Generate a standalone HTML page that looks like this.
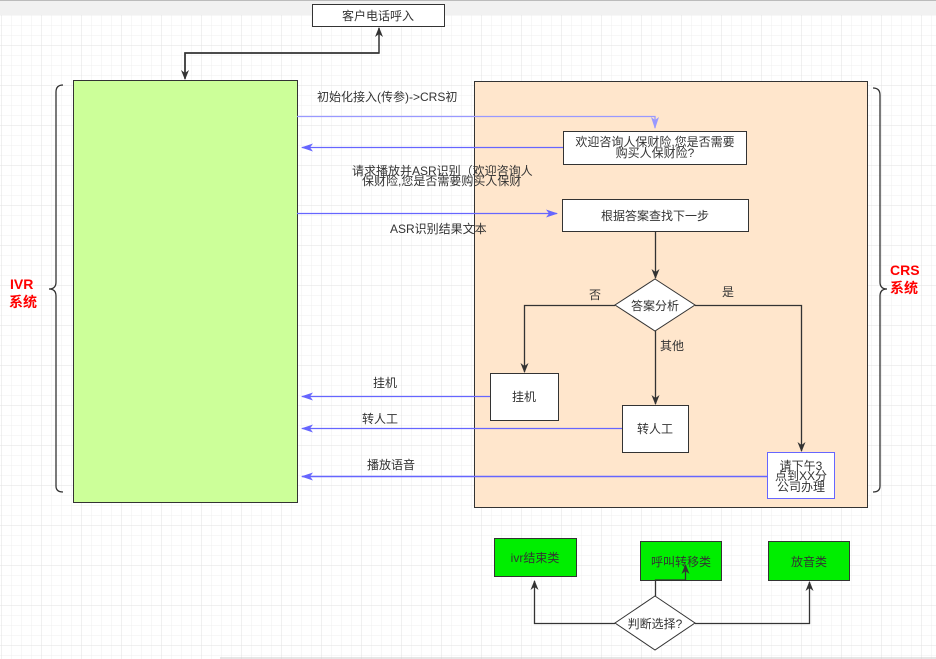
<!DOCTYPE html>
<html><head><meta charset="utf-8"><style>
html,body{margin:0;padding:0;background:#fff;}
svg{display:block;}
text{font-family:"Liberation Sans","Noto Sans CJK SC",sans-serif;font-size:12px;fill:#333;}
</style></head><body>
<svg width="936" height="659" viewBox="0 0 936 659" xmlns="http://www.w3.org/2000/svg">
<defs>
<pattern id="g" width="10" height="10" patternUnits="userSpaceOnUse" x="2" y="6"><path d="M10 0V10M0 10H10" fill="none" stroke="#efefef" stroke-width="1"/></pattern>
<pattern id="G" width="40" height="40" patternUnits="userSpaceOnUse" x="2" y="6"><path d="M40 0V40M0 40H40" fill="none" stroke="#e2e2e2" stroke-width="1"/></pattern>
<marker id="ak" markerWidth="10" markerHeight="10" refX="9" refY="5" orient="auto" markerUnits="userSpaceOnUse"><path d="M0 1L10 5L0 9L3 5Z" fill="#333"/></marker>
<marker id="ab" markerWidth="12" markerHeight="10" refX="11" refY="5" orient="auto" markerUnits="userSpaceOnUse"><path d="M0 1L12 5L0 9L3 5Z" fill="#6666ff"/></marker>
<marker id="ab2" markerWidth="12" markerHeight="10" refX="11" refY="5" orient="auto" markerUnits="userSpaceOnUse"><path d="M0 1L12 5L0 9L3 5Z" fill="#9999ff"/></marker>
</defs>
<rect width="936" height="659" fill="url(#g)"/>
<rect width="936" height="659" fill="url(#G)"/>
<rect x="0" y="0" width="936" height="15" fill="#f1f1f1"/>
<line x1="0" y1="0.5" x2="936" y2="0.5" stroke="#bbb"/>
<line x1="220" y1="658" x2="936" y2="658" stroke="#ccc"/>

<!-- top box -->
<rect x="312.5" y="4.5" width="132" height="22" fill="#fff" stroke="#333"/>
<text x="378" y="20" text-anchor="middle">客户电话呼入</text>
<path d="M185 78V53H379V28" fill="none" stroke="#333" stroke-width="1.5" marker-end="url(#ak)"/>
<path d="M379 53H185V79" fill="none" stroke="#333" stroke-width="1.5" marker-end="url(#ak)"/>

<!-- main boxes -->
<rect x="73.5" y="80.5" width="224" height="422" fill="#ccff99" stroke="#333"/>
<rect x="474.5" y="81.5" width="393" height="426" fill="#ffe6cc" stroke="#333"/>

<!-- braces -->
<path d="M63 85Q56 85 56 92V282Q56 289 49 289Q56 289 56 296V486Q56 492 63 492" fill="none" stroke="#333" stroke-width="1.3"/>
<path d="M873 88Q880 88 880 95V282Q880 289 887 289Q880 289 880 296V486Q880 492 873 492" fill="none" stroke="#333" stroke-width="1.3"/>
<text x="10" y="289" style="font-size:14px;font-weight:bold;fill:#ff0000">IVR</text>
<text x="9" y="307" style="font-size:14px;font-weight:bold;fill:#ff0000">系统</text>
<text x="890" y="275" style="font-size:14px;font-weight:bold;fill:#ff0000">CRS</text>
<text x="890" y="293" style="font-size:14px;font-weight:bold;fill:#ff0000">系统</text>

<!-- top flows -->
<text x="317" y="101">初始化接入(传参)-&gt;CRS初</text>
<path d="M297 116.5H655V128" fill="none" stroke="#9999ff" stroke-width="1.3" marker-end="url(#ab2)"/>
<rect x="563.5" y="131.5" width="183" height="33" fill="#fff" stroke="#333"/>
<text x="655" y="146" text-anchor="middle">欢迎咨询人保财险,您是否需要</text>
<text x="655" y="157" text-anchor="middle">购买人保财险?</text>
<path d="M563 147.5H302" fill="none" stroke="#6666ff" stroke-width="1.3" marker-end="url(#ab)"/>
<text x="352" y="175">请求播放并ASR识别（欢迎咨询人</text>
<text x="362" y="185">保财险,您是否需要购买人保财</text>
<path d="M297 213.5H557" fill="none" stroke="#6666ff" stroke-width="1.3" marker-end="url(#ab)"/>
<rect x="562.5" y="199.5" width="186" height="32" fill="#fff" stroke="#333"/>
<text x="655" y="220" text-anchor="middle">根据答案查找下一步</text>
<text x="390" y="233">ASR识别结果文本</text>

<!-- decision -->
<path d="M655.5 232V278" stroke="#333" stroke-width="1.3" marker-end="url(#ak)"/>
<path d="M655 279L695 305L655 331L615 305Z" fill="#fff" stroke="#333"/>
<text x="655" y="310" text-anchor="middle">答案分析</text>
<text x="589" y="299">否</text>
<text x="722" y="296">是</text>
<path d="M615 305.5H524.5V372" fill="none" stroke="#333" stroke-width="1.3" marker-end="url(#ak)"/>
<path d="M655.5 331V404" fill="none" stroke="#333" stroke-width="1.3" marker-end="url(#ak)"/>
<text x="660" y="350">其他</text>
<path d="M695 305.5H801.5V451" fill="none" stroke="#333" stroke-width="1.3" marker-end="url(#ak)"/>

<rect x="490.5" y="373.5" width="68" height="47" fill="#fff" stroke="#333"/>
<text x="524" y="401" text-anchor="middle">挂机</text>
<rect x="622.5" y="405.5" width="66" height="47" fill="#fff" stroke="#333"/>
<text x="655" y="433" text-anchor="middle">转人工</text>
<rect x="767.5" y="452.5" width="67" height="46" fill="#fff" stroke="#6666ff"/>
<text x="801" y="470" text-anchor="middle">请下午3</text>
<text x="801" y="480" text-anchor="middle">点到XX分</text>
<text x="801" y="491" text-anchor="middle">公司办理</text>

<!-- return flows -->
<path d="M490 396.5H302" fill="none" stroke="#6666ff" stroke-width="1.3" marker-end="url(#ab)"/>
<text x="373" y="387">挂机</text>
<path d="M622 428.5H302" fill="none" stroke="#6666ff" stroke-width="1.3" marker-end="url(#ab)"/>
<text x="362" y="423">转人工</text>
<path d="M767 476.5H302" fill="none" stroke="#6666ff" stroke-width="1.5" marker-end="url(#ab)"/>
<text x="367" y="469">播放语音</text>

<!-- bottom -->
<rect x="494.5" y="538.5" width="82" height="38" fill="#00ee00" stroke="#333"/>
<text x="535" y="562" text-anchor="middle">ivr结束类</text>
<rect x="640.5" y="541.5" width="81" height="39" fill="#00ee00" stroke="#333"/>
<text x="681" y="566" text-anchor="middle">呼叫转移类</text>
<rect x="768.5" y="541.5" width="81" height="39" fill="#00ee00" stroke="#333"/>
<text x="809" y="566" text-anchor="middle">放音类</text>
<path d="M655 596L695 623L655 650L615 623Z" fill="#fff" stroke="#333"/>
<text x="655" y="628" text-anchor="middle">判断选择?</text>
<path d="M615 623.5H534.5V581" fill="none" stroke="#333" stroke-width="1.3" marker-end="url(#ak)"/>
<path d="M695 623.5H809.5V582" fill="none" stroke="#333" stroke-width="1.3" marker-end="url(#ak)"/>
<path d="M655.5 596V580H685.5V565" fill="none" stroke="#333" stroke-width="1.3" marker-end="url(#ak)"/>
</svg>
</body></html>
